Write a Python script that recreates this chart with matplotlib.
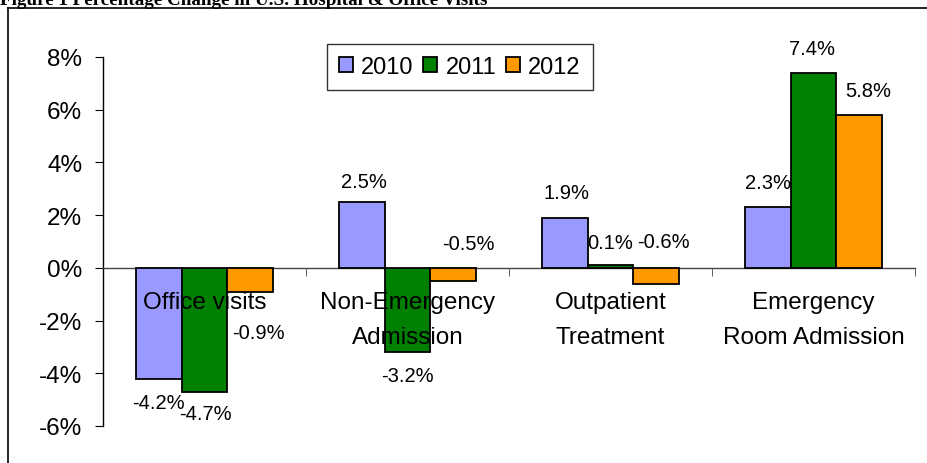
import matplotlib
matplotlib.use("Agg")
import matplotlib.pyplot as plt
import numpy as np
from matplotlib.lines import Line2D
from matplotlib.ticker import FuncFormatter

plt.rcParams['font.family'] = ['Liberation Sans', 'DejaVu Sans']

# data
categories = ['Office visits', 'Non-Emergency\nAdmission', 'Outpatient\nTreatment',
              'Emergency\nRoom Admission']
years = ['2010', '2011', '2012']
v2010 = [-4.2, 2.5, 1.9, 2.3]
v2011 = [-4.7, -3.2, 0.1, 7.4]
v2012 = [-0.9, -0.5, -0.6, 5.8]
series = [v2010, v2011, v2012]

colors = ['#9999FF', '#008000', '#FF9900']

# label nudges in pixels (dx, dy from bar end), same shape as series
label_nudge = [
    [(-1, -24), (2, 20), (1, 25), (0, 25)],
    [(1, -22), (0, -23), (0, 23), (-1, 24)],
    [(8, -41), (15, 38), (7, 42), (9, 24)],
]

fig = plt.figure(figsize=(9.28, 4.64), dpi=100)
W, H = 928, 464
ax = fig.add_axes([103 / W, (H - 427) / H, (915 - 103) / W, (427 - 58) / H])

x = np.arange(len(categories))
w = 0.224
for i, vals in enumerate(series):
    pos = x + (i - 1) * w
    ax.bar(pos, [v / 100 for v in vals], width=w, color=colors[i],
           edgecolor='black', linewidth=1.3, label=years[i], zorder=3)
    for j, v in enumerate(vals):
        dx, dy = label_nudge[i][j]
        ax.annotate(f'{v:.1f}%', xy=(pos[j], v / 100), xytext=(dx, dy),
                    textcoords='offset pixels', ha='center', va='center',
                    fontsize=14.5, zorder=5, annotation_clip=False)

# category names sit on top of the bars, just under the zero line
for j, name in enumerate(categories):
    ax.annotate(name, xy=(x[j], 0), xytext=(0, -23), textcoords='offset pixels',
                ha='center', va='top', fontsize=17.5, linespacing=1.75, zorder=6)

ax.set_xlim(-0.5, len(categories) - 0.5)
ax.set_ylim(-0.06, 0.08)
ax.set_yticks(np.arange(-0.06, 0.081, 0.02))
ax.yaxis.set_major_formatter(FuncFormatter(lambda y, _: f'{round(y * 100):d}%'))

for s in ['top', 'right']:
    ax.spines[s].set_visible(False)
ax.spines['bottom'].set_position(('data', 0))
ax.spines['bottom'].set_color('#444444')
ax.spines['bottom'].set_linewidth(1.0)
ax.spines['left'].set_linewidth(1.0)

ax.set_xticks([])
ax.set_xticks(np.arange(-0.5, len(categories)), minor=True)
ax.tick_params(axis='x', which='minor', length=6, direction='out', color='#444444')
ax.tick_params(axis='y', length=6, direction='out', labelsize=17.5, pad=9)

leg = ax.legend(loc='upper left', bbox_to_anchor=((327 - 103) / (915 - 103), 1 + 13 / 369),
                ncol=3, fontsize=17, frameon=True, fancybox=False,
                handlelength=0.6, handleheight=0.6, handletextpad=0.35,
                columnspacing=0.4, borderpad=0.5, borderaxespad=0)
leg.get_frame().set_edgecolor('black')
leg.get_frame().set_linewidth(1.0)

# outer frame (left and top only visible)
fig.add_artist(Line2D([8 / W, 8 / W], [0, 1 - 9 / H], color='black', lw=1.2))
fig.add_artist(Line2D([8 / W, 1], [1 - 9 / H, 1 - 9 / H], color='black', lw=1.2))

fig.text(0.0, 1 - 5 / H, 'Figure 1 Percentage Change in U.S. Hospital & Office Visits',
         family=['Liberation Serif', 'DejaVu Serif'], fontweight='bold', fontsize=13.8,
         ha='left', va='baseline')

fig.savefig('out.png', dpi=100)
